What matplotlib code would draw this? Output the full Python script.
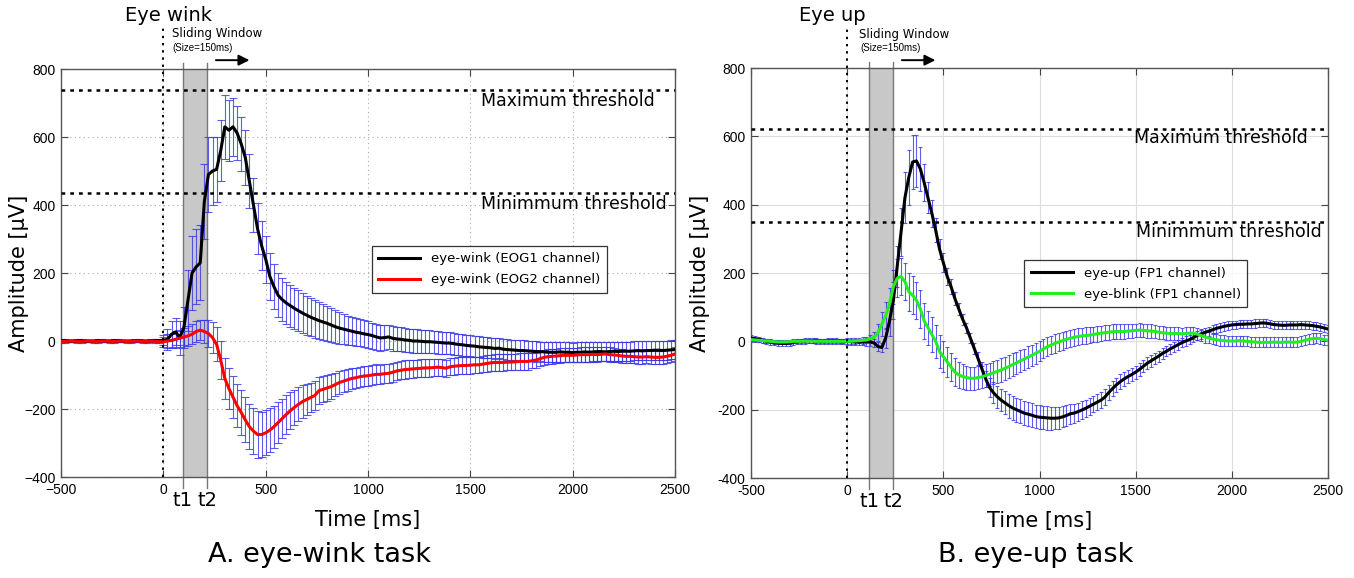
"""EOG amplitude traces for the eye-wink and eye-up tasks."""

import numpy as np
import matplotlib

matplotlib.use("Agg")
import matplotlib.pyplot as plt

plt.rcParams["font.family"] = ["DejaVu Sans"]

# sampling grid of the averaged traces (ms)
t = np.arange(-500, 2520, 20)

# ---- panel A: eye-wink ----
wink_eog1 = [
    1, 1, 0, 0, 1, 1, 0, 0, 0, 1, 1, 0, 0, 1, 1, 0, 0, 0, 1, 1, 0, 0, 1, 1, 1,
    2, 5, 20, 27, 10, 40, 120, 200, 218, 230,
    410, 490, 500, 505, 560, 630, 620, 630, 612, 580,
    540, 470, 400, 330, 280, 240, 190, 160, 135, 122,
    112, 104, 96, 89, 82, 76, 70, 65, 60, 56,
    52, 47, 42, 38, 35, 32, 29, 26, 24, 21,
    19, 16, 12, 9, 10, 12, 8, 6, 5, 3,
    2, 0, 0, -1, -2, -2, -3, -4, -5, -6,
    -6, -8, -10, -11, -13, -14, -15, -17, -18, -19,
    -20, -22, -21, -24, -25, -26, -27, -28, -28, -29,
    -30, -31, -31, -32, -33, -33, -33, -32, -33, -33,
    -34, -33, -33, -32, -33, -32, -31, -31, -32, -31,
    -30, -31, -30, -30, -30, -29, -28, -29, -28, -28,
    -27, -27, -28, -27, -26, -25,
]
wink_eog1_err = [
    4, 4, 4, 4, 4, 4, 4, 4, 4, 4, 4, 4, 4, 4, 4, 4, 4, 4, 4, 4, 4, 4, 4, 4, 4,
    15, 30, 40, 40, 50, 60, 90, 110, 110, 110,
    110, 110, 100, 95, 90, 95, 90, 85, 80, 80,
    80, 80, 78, 75, 72, 70, 68, 66, 65, 64,
    63, 62, 61, 60, 58, 57, 56, 55, 54, 53,
    52, 50, 48, 46, 44, 43, 42, 41, 40, 40,
    39, 38, 38, 37, 37, 36, 36, 35, 35, 35,
    34, 34, 34, 33, 33, 33, 33, 33, 32, 32,
    32, 32, 32, 32, 31, 31, 31, 31, 31, 31,
    30, 30, 30, 30, 30, 30, 30, 30, 30, 30,
    30, 30, 29, 29, 29, 29, 29, 29, 29, 29,
    29, 29, 29, 29, 29, 29, 29, 28, 28, 28,
    28, 28, 28, 28, 28, 28, 28, 28, 28, 28,
    28, 28, 28, 28, 28, 28,
]
wink_eog2 = [
    -1, -1, 0, 0, -1, -1, 0, 0, -1, -1, 0, 0, -1, -1, 0, 0, -1, -1, 0, 0, -1, -1, 0, -1, -2,
    -2, 0, 2, 5, 8, 12, 15, 20, 28, 32,
    28, 22, 10, -10, -56, -110, -140, -165, -190, -210,
    -232, -252, -265, -275, -275, -270, -262, -252, -240, -228,
    -216, -205, -195, -186, -178, -172, -166, -160, -146, -142,
    -138, -134, -128, -122, -118, -114, -110, -108, -105, -103,
    -102, -100, -98, -98, -96, -95, -92, -88, -86, -84,
    -83, -82, -81, -80, -79, -79, -78, -77, -78, -80,
    -76, -74, -73, -72, -72, -71, -70, -70, -68, -66,
    -64, -63, -63, -63, -62, -62, -61, -60, -60, -60,
    -58, -56, -52, -48, -46, -45, -44, -43, -42, -42,
    -42, -41, -40, -40, -40, -39, -40, -39, -38, -40,
    -41, -42, -44, -45, -45, -46, -47, -47, -46, -47,
    -48, -48, -47, -45, -42, -38,
]
wink_eog2_err = [
    4, 4, 4, 4, 4, 4, 4, 4, 4, 4, 4, 4, 4, 4, 4, 4, 4, 4, 4, 4, 4, 4, 4, 4, 4,
    15, 20, 20, 25, 25, 25, 30, 30, 30, 30,
    35, 40, 45, 50, 55, 60, 60, 62, 64, 65,
    66, 67, 68, 68, 67, 66, 64, 62, 60, 58,
    56, 54, 52, 50, 48, 46, 44, 42, 40, 38,
    37, 36, 35, 34, 33, 32, 31, 30, 30, 30,
    29, 29, 29, 28, 28, 28, 28, 27, 27, 27,
    26, 26, 26, 26, 26, 26, 25, 25, 25, 25,
    25, 25, 25, 25, 25, 25, 24, 24, 24, 24,
    24, 24, 24, 24, 24, 24, 24, 24, 24, 24,
    22, 22, 22, 22, 22, 22, 22, 22, 21, 21,
    21, 21, 21, 21, 21, 21, 21, 21, 21, 21,
    20, 20, 20, 20, 20, 20, 20, 20, 20, 20,
    20, 20, 20, 20, 20, 20,
]

# ---- panel B: eye-up ----
up_fp1 = [
    10, 8, 6, 3, 0, -2, -4, -5, -6, -6, -5, -3, -1, 0, 1, 2, 2, 1, 0, 0, 1, 1, 1, 0, 0,
    0, -1, -2, -2, -2, -1, -1, -5, -15, -18,
    10, 60, 120, 220, 320, 420, 480, 525, 528, 505,
    465, 420, 375, 325, 270, 230, 190, 160, 125, 95,
    65, 40, 10, -20, -50, -80, -110, -135, -150, -162,
    -172, -180, -188, -195, -200, -205, -210, -213, -216, -220,
    -222, -223, -224, -225, -225, -224, -221, -217, -212, -210,
    -206, -201, -196, -190, -184, -178, -172, -163, -150, -138,
    -127, -118, -110, -103, -97, -90, -82, -73, -64, -57,
    -50, -43, -35, -29, -22, -16, -10, -4, 1, 5,
    11, 17, 22, 26, 30, 34, 38, 41, 44, 46,
    48, 49, 50, 50, 51, 51, 52, 53, 54, 53,
    51, 49, 48, 47, 47, 48, 48, 48, 49, 48,
    47, 46, 44, 42, 39, 36,
]
up_fp1_err = [
    8, 8, 8, 8, 8, 8, 8, 8, 8, 8, 8, 8, 8, 8, 8, 8, 8, 8, 8, 8, 8, 8, 8, 8, 8,
    10, 10, 10, 10, 10, 12, 12, 12, 12, 14,
    30, 45, 55, 60, 70, 75, 80, 80, 75, 65,
    55, 45, 40, 35, 30, 28, 25, 22, 20, 18,
    16, 15, 15, 16, 18, 20, 24, 28, 30, 32,
    33, 34, 35, 35, 35, 35, 35, 35, 35, 35,
    35, 35, 35, 34, 33, 32, 31, 30, 29, 28,
    27, 26, 25, 25, 24, 24, 23, 23, 22, 22,
    21, 21, 20, 20, 19, 19, 18, 18, 17, 17,
    16, 16, 16, 15, 15, 15, 15, 14, 14, 14,
    14, 14, 14, 13, 13, 13, 13, 13, 13, 13,
    12, 12, 12, 12, 12, 12, 12, 12, 12, 12,
    12, 12, 12, 12, 12, 12, 12, 12, 12, 12,
    12, 12, 12, 12, 12, 12,
]
blink_fp1 = [
    5, 4, 3, 2, 1, 0, -1, -2, -2, -2, -1, 0, 0, 0, 1, 1, 1, 0, 0, 0, 0, 0, 0, 0, 0,
    0, 0, 1, 2, 3, 4, 8, 12, 25, 50,
    75, 110, 160, 185, 190, 175, 145, 135, 120, 95,
    60, 40, 20, 0, -30, -45, -60, -75, -90, -98,
    -103, -106, -108, -108, -106, -104, -100, -96, -92, -88,
    -84, -79, -74, -68, -63, -57, -52, -46, -41, -35,
    -29, -22, -16, -11, -6, -2, 2, 6, 9, 12,
    14, 16, 17, 18, 20, 22, 24, 25, 27, 28,
    29, 29, 29, 30, 31, 32, 33, 32, 31, 30,
    29, 27, 25, 24, 23, 23, 23, 22, 23, 24,
    24, 21, 17, 13, 10, 7, 5, 3, 2, 1,
    1, 1, 2, 1, 0, -1, -2, -3, -3, -3,
    -3, -2, -3, -3, -2, -2, -3, -2, 0, 3,
    6, 8, 9, 8, 5, 3,
]
blink_fp1_err = [
    6, 6, 6, 6, 6, 6, 6, 6, 6, 6, 6, 6, 6, 6, 6, 6, 6, 6, 6, 6, 6, 6, 6, 6, 6,
    8, 8, 8, 8, 10, 10, 12, 15, 25, 35,
    40, 45, 50, 55, 55, 55, 55, 55, 55, 55,
    52, 50, 50, 48, 48, 46, 44, 42, 40, 38,
    36, 35, 34, 33, 33, 33, 33, 34, 34, 34,
    34, 34, 33, 33, 32, 32, 31, 31, 30, 30,
    29, 28, 28, 27, 27, 26, 26, 25, 25, 25,
    24, 24, 24, 23, 23, 23, 22, 22, 22, 22,
    21, 21, 21, 21, 20, 20, 20, 20, 20, 20,
    19, 19, 19, 19, 18, 18, 18, 18, 18, 18,
    17, 17, 17, 17, 16, 16, 16, 16, 16, 16,
    15, 15, 15, 15, 15, 15, 15, 15, 15, 15,
    15, 15, 15, 15, 15, 15, 15, 15, 15, 15,
    15, 15, 15, 15, 15, 15,
]

xticks = [-500, 0, 500, 1000, 1500, 2000, 2500]
yticks = [-400, -200, 0, 200, 400, 600, 800]

wink_thresholds = (738, 435)
up_thresholds = (622, 350)


def draw_panel(ax, series, thresholds, thr_text, window, event, grid_ls,
               minus, legend_anchor, capsize, text_pos, ylabel_x):
    for mean, err, color, label in series:
        ax.errorbar(t, mean, yerr=err, fmt="none", ecolor="#3535e5", elinewidth=0.8,
                    capsize=capsize, capthick=0.8, alpha=0.8, zorder=2)
    for mean, err, color, label in series:
        ax.plot(t, mean, color=color, lw=2.2, label=label, zorder=3)

    # thresholds
    for thr in thresholds:
        ax.axhline(thr, color="black", ls=(0, (1.5, 2.0)), lw=1.8, zorder=4)
    for (x, y, s) in thr_text:
        ax.text(x, y, s, ha="right", va="center", fontsize=12.5, zorder=5)

    # sliding window
    t1, t2 = window
    ax.axvspan(t1, t2, color="#c8c8c8", zorder=1, lw=0)
    for xv, name in ((t1, "t1"), (t2, "t2")):
        ax.plot([xv, xv], [-432, 818], color="#777777", lw=1.0, clip_on=False, zorder=1)
        ax.text(xv, -468, name, ha="center", va="center", fontsize=14)

    # event onset
    ax.plot([0, 0], [-400, 922], color="black", ls=(0, (1.2, 2.5)), lw=1.4,
            clip_on=False, zorder=4)
    ex, ey, sx, sy, ax0, ax1, ay = text_pos
    ax.text(ex, ey, event, ha="center", va="center", fontsize=14)
    ax.text(sx, sy, "Sliding Window", ha="left", va="center", fontsize=8.5)
    ax.text(sx + 4, sy - 40, "(Size=150ms)", ha="left", va="center", fontsize=7,
            family="Liberation Sans")
    ax.annotate("", xy=(ax1, ay), xytext=(ax0, ay), annotation_clip=False,
                arrowprops=dict(arrowstyle="-|>", color="black", lw=1.4,
                                mutation_scale=16))

    ax.set_xlim(-500, 2500)
    ax.set_ylim(-400, 800)
    ax.set_xticks(xticks)
    ax.set_yticks(yticks)
    dash = "\u2212" if minus else "-"
    ax.set_xticklabels([str(v).replace("-", dash) for v in xticks],
                       family="Liberation Sans", fontsize=10)
    ax.set_yticklabels([str(v).replace("-", dash) for v in yticks],
                       family="Liberation Sans", fontsize=10)
    ax.tick_params(direction="in", top=True, right=True, length=5, width=0.8,
                   color="#444444", pad=4)
    for sp in ax.spines.values():
        sp.set_color("#555555")
        sp.set_linewidth(1.0)
    if grid_ls == "dotted":
        ax.grid(True, color="#aaaaaa", ls=(0, (1, 3)), lw=0.8, zorder=0)
    else:
        ax.grid(True, color="#dddddd", ls="-", lw=0.8, zorder=0)
    ax.set_axisbelow(True)

    ax.set_xlabel("Time [ms]", fontsize=15, labelpad=10)
    ax.set_ylabel("Amplitude [\u03bcV]", fontsize=15)
    ax.yaxis.set_label_coords(ylabel_x, 0.5)

    leg = ax.legend(loc="upper left", bbox_to_anchor=legend_anchor, fontsize=9.5,
                    frameon=True, fancybox=False, edgecolor="black",
                    handlelength=3.2, borderpad=0.5, labelspacing=0.6)
    leg.get_frame().set_linewidth(0.9)
    leg.set_zorder(6)


fig = plt.figure(figsize=(13.54, 5.78), dpi=100)
ax_a = fig.add_axes([0.0451, 0.1747, 0.4535, 0.7059])
ax_b = fig.add_axes([0.5547, 0.1730, 0.4261, 0.7093])

draw_panel(
    ax_a,
    [(wink_eog1, wink_eog1_err, "black", "eye-wink (EOG1 channel)"),
     (wink_eog2, wink_eog2_err, "#ff0000", "eye-wink (EOG2 channel)")],
    wink_thresholds,
    [(2402, 706, "Maximum threshold"), (2460, 403, "Minimmum threshold")],
    (95, 213), "Eye wink", "dotted", True, (0.495, 0.583), 3.0,
    (23, 956, 42, 903, 243, 434, 826), -0.053,
)
draw_panel(
    ax_b,
    [(up_fp1, up_fp1_err, "black", "eye-up (FP1 channel)"),
     (blink_fp1, blink_fp1_err, "#22ee22", "eye-blink (FP1 channel)")],
    up_thresholds,
    [(2397, 595, "Maximum threshold"), (2470, 320, "Minimmum threshold")],
    (114, 240), "Eye up", "solid", False, (0.462, 0.547), 1.5,
    (-78, 955, 62, 899, 270, 473, 823), -0.072,
)

fig.text(0.236, 0.04, "A. eye-wink task", ha="center", va="center", fontsize=19.5)
fig.text(0.765, 0.04, "B. eye-up task", ha="center", va="center", fontsize=19.5)

fig.savefig("out.png", dpi=100)
